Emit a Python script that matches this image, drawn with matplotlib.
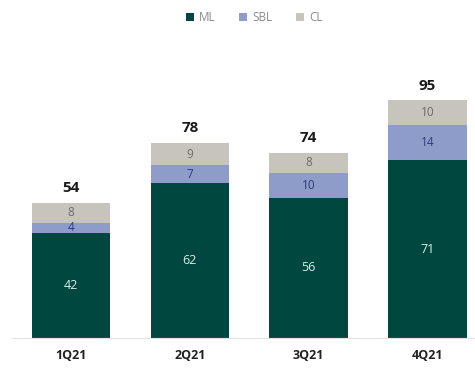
import matplotlib.pyplot as plt

# Quarterly breakdown
quarters = ["1Q21", "2Q21", "3Q21", "4Q21"]
ml = [42, 62, 56, 71]
sbl = [4, 7, 10, 14]
cl = [8, 9, 8, 10]
totals = [54, 78, 74, 95]

plt.rcParams['font.family'] = ['Open Sans', 'DejaVu Sans']

fig = plt.figure(figsize=(4.75, 3.7), dpi=100)
ax = fig.add_axes([0.0245, 0.0865, 0.9755, 0.805])

x = range(len(quarters))
w = 0.66
c_ml, c_sbl, c_cl = "#00483f", "#8d9cc9", "#c7c3bd"

b1 = ax.bar(x, ml, w, color=c_ml, label="ML")
b2 = ax.bar(x, sbl, w, bottom=ml, color=c_sbl, label="SBL")
bot = [a + b for a, b in zip(ml, sbl)]
b3 = ax.bar(x, cl, w, bottom=bot, color=c_cl, label="CL")

ax.bar_label(b1, label_type="center", color="#d8eeea", fontsize=9)
ax.bar_label(b2, label_type="center", color="#2b3c78", fontsize=8.5)
ax.bar_label(b3, label_type="center", color="#6b6b6b", fontsize=8.5)

for i, t in enumerate(totals):
    ax.text(i, t + 3, str(t), ha="center", va="bottom", fontsize=11,
            fontweight="bold", color="#1a1a1a")

ax.set_xlim(-0.5, 3.4)
ax.set_ylim(0, 119)
ax.set_xticks(list(x))
ax.set_xticklabels(quarters, fontsize=9, fontweight="bold", color="#222222")
ax.tick_params(axis="x", length=0, pad=8)
ax.set_yticks([])
for s in ["top", "right", "left"]:
    ax.spines[s].set_visible(False)
ax.spines["bottom"].set_color("#e3e3e3")

fig.legend(handles=[b1, b2, b3], loc="center", bbox_to_anchor=(0.535, 0.952),
           ncol=3, frameon=False, fontsize=8.5, labelcolor="#8a8a8a",
           handlelength=0.7, handleheight=0.7, handletextpad=0.4,
           columnspacing=2.0)

fig.savefig("out.png")
